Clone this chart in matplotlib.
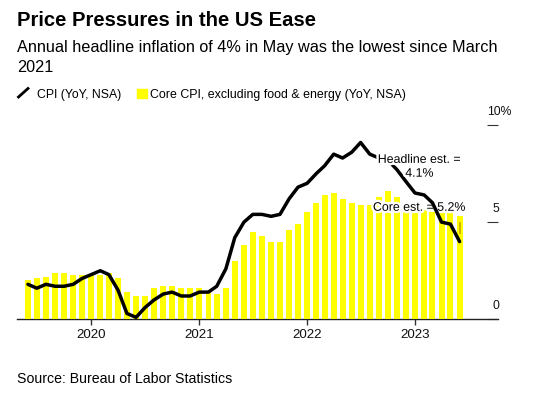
import matplotlib.pyplot as plt
import matplotlib.patheffects as pe
import matplotlib.transforms as mtransforms
from matplotlib.lines import Line2D
from matplotlib.patches import Rectangle
import pandas as pd

plt.rcParams['font.family'] = ['Liberation Sans', 'DejaVu Sans']

# monthly readings May 2019 - May 2023, drawn at the month's end
months = pd.date_range('2019-06-01', periods=49, freq='MS')
cpi = [1.8, 1.6, 1.8, 1.7, 1.7, 1.8, 2.1, 2.3,
       2.5, 2.3, 1.5, 0.3, 0.1, 0.6, 1.0, 1.3, 1.4, 1.2, 1.2, 1.4,
       1.4, 1.7, 2.6, 4.2, 5.0, 5.4, 5.4, 5.3, 5.4, 6.2, 6.8, 7.0,
       7.5, 7.9, 8.5, 8.3, 8.6, 9.1, 8.5, 8.3, 8.2, 7.7, 7.1, 6.5,
       6.4, 6.0, 5.0, 4.9, 4.0]
core = [2.0, 2.1, 2.2, 2.4, 2.4, 2.3, 2.3, 2.3,
        2.3, 2.4, 2.1, 1.4, 1.2, 1.2, 1.6, 1.7, 1.7, 1.6, 1.6, 1.6,
        1.4, 1.3, 1.6, 3.0, 3.8, 4.5, 4.3, 4.0, 4.0, 4.6, 4.9, 5.5,
        6.0, 6.4, 6.5, 6.2, 6.0, 5.9, 5.9, 6.3, 6.6, 6.3, 6.0, 5.7,
        5.6, 5.5, 5.6, 5.5, 5.3]
year_labels = ['2020', '2021', '2022', '2023']
y_ticks = [0, 5, 10]
y_tick_labels = ['0', '5', '10%']
headline_est = 4.1
core_est = 5.2
est_mark = [4.4, 5.0]

W, H = 533, 397


def fx(x):
    return x / W


def fy(y):
    return 1 - y / H


fig = plt.figure(figsize=(W / 100, H / 100), dpi=100)
ax = fig.add_axes([fx(17.3), fy(319.3), (497.7 - 17.3) / W, (319.3 - 125) / H])

ax.bar(months, core, width=20, color='#ffff00', zorder=3)
ax.vlines(months[-1], est_mark[0], est_mark[1], color='#c8a400', lw=1.2, zorder=3.5)
ax.plot(months, cpi, color='black', lw=2.5, solid_joinstyle='round',
        solid_capstyle='round', zorder=4)

halo = [pe.withStroke(linewidth=3.5, foreground='white')]
ax.text(pd.Timestamp('2023-01-16'), 7.85, f'Headline est. =\n{headline_est}%',
        ha='center', va='center', fontsize=8.9, linespacing=1.2,
        zorder=5, path_effects=halo)
ax.text(pd.Timestamp('2023-01-16'), 5.74, f'Core est. = {core_est}%',
        ha='center', va='center', fontsize=8.9, zorder=3.8, path_effects=halo)

ax.set_xlim(pd.Timestamp('2019-04-26'), pd.Timestamp('2023-10-08'))
ax.set_ylim(0, 10)
for s in ['top', 'left', 'right']:
    ax.spines[s].set_visible(False)
ax.spines['bottom'].set_color('#222222')
ax.spines['bottom'].set_linewidth(1)

ax.set_xticks([pd.Timestamp(f'{y}-01-01') for y in year_labels])
ax.set_xticklabels(year_labels)
ax.tick_params(axis='x', length=4, width=1, color='#333333', pad=3,
               labelsize=9.6, labelcolor='#111111')

ax.yaxis.tick_right()
ax.set_yticks(y_ticks)
ax.set_yticklabels([])
ax.tick_params(axis='y', direction='in', length=8, width=0.8, color='#333333')

trans = mtransforms.offset_copy(ax.get_yaxis_transform(), fig=fig, y=13, units='dots')
for v, lbl in zip(y_ticks, y_tick_labels):
    if lbl.endswith('%'):
        ax.text(0.977, v, lbl, transform=trans, ha='left', va='center',
                fontsize=8.8, color='#111111', clip_on=False)
    else:
        ax.text(1.003, v, lbl, transform=trans, ha='right', va='center',
                fontsize=8.8, color='#111111', clip_on=False)

# header
fig.text(fx(17.3), fy(26), 'Price Pressures in the US Ease',
         fontsize=14.6, fontweight='bold', va='baseline')
fig.text(fx(17.3), fy(52), 'Annual headline inflation of 4% in May was the lowest since March',
         fontsize=11.7, va='baseline')
fig.text(fx(17.3), fy(72), '2021', fontsize=11.7, va='baseline')

# legend
fig.add_artist(Line2D([fx(18.5), fx(28)], [fy(97), fy(88.5)], color='black',
                      lw=2, transform=fig.transFigure))
fig.text(fx(36.7), fy(97.7), 'CPI (YoY, NSA)', fontsize=8.8, va='baseline')
fig.add_artist(Rectangle((fx(136.7), fy(97.7)), 10 / W, 9 / H, color='#ffff00',
                         transform=fig.transFigure))
fig.text(fx(150), fy(97.7), 'Core CPI, excluding food & energy (YoY, NSA)',
         fontsize=8.9, va='baseline')

fig.text(fx(17.3), fy(383.3), 'Source: Bureau of Labor Statistics',
         fontsize=10.2, va='baseline')

fig.savefig('out.png', dpi=100)
